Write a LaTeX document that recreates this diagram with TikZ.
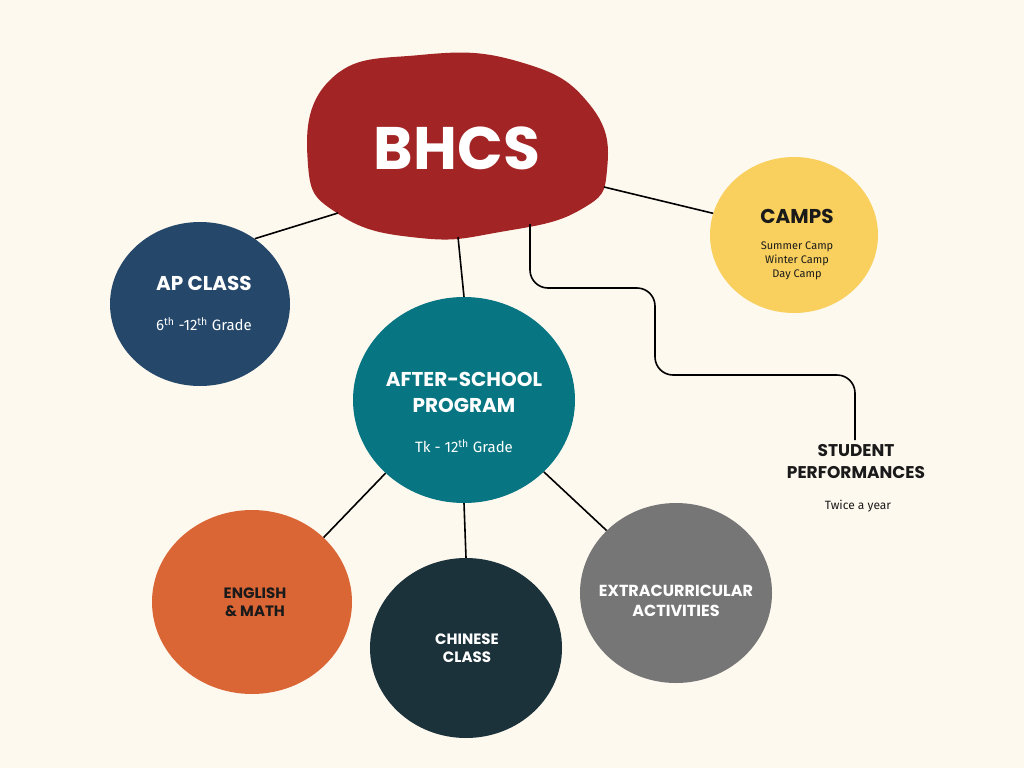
\documentclass[tikz,border=0pt]{standalone}
\usepackage{fontspec}
\setmainfont{Poppins}
\newfontfamily\smallfont{Fira Sans}
\usetikzlibrary{shapes.geometric}
\definecolor{bgcream}{HTML}{FEF9EF}
\definecolor{bhcsred}{HTML}{A32424}
\definecolor{apblue}{HTML}{24476A}
\definecolor{campyellow}{HTML}{F9D05E}
\definecolor{afterteal}{HTML}{087682}
\definecolor{engorange}{HTML}{DA6636}
\definecolor{chinadark}{HTML}{1B323B}
\definecolor{extragray}{HTML}{767676}
\definecolor{inkdark}{HTML}{1A1A1A}
\newcommand{\fsz}[1]{\fontsize{#1}{#1}\selectfont}
\tikzset{
  bubble/.style={ellipse, inner sep=0pt},
  link/.style={draw=black, line width=1.6pt},
  title/.style={font=\bfseries\fsz{20}, align=center},
  subtext/.style={font=\smallfont\fsz{15}}
}
\begin{document}
\begin{tikzpicture}[x=1pt,y=-1pt]

% Background
\useasboundingbox[fill=bgcream] (0,0) rectangle (1024,768);

% Main blob
\fill[bhcsred] plot[smooth cycle, tension=0.8] coordinates
  {(330,80) (420,55) (520,62) (590,105) (607,170) (580,210) (500,232) (420,238) (340,215) (308,165)};
\node[font=\bfseries\fsz{60}, text=white] (bhcs) at (457,148) {BHCS};
\coordinate (bhcsleft) at (338,213);
\coordinate (bhcsright) at (604,187);
\coordinate (bhcsbottom) at (458,237);
\coordinate (bhcselbow) at (530,224);

% Bubbles
\node[bubble, fill=apblue, minimum width=180pt, minimum height=164pt] (ap) at (200,304) {};
\node[bubble, fill=campyellow, minimum width=168pt, minimum height=156pt] (camps) at (794,235) {};
\node[bubble, fill=afterteal, minimum width=222pt, minimum height=206pt] (after) at (464,400) {};
\node[bubble, fill=engorange, minimum width=200pt, minimum height=184pt] (english) at (252,602) {};
\node[bubble, fill=chinadark, minimum width=192pt, minimum height=180pt] (chinese) at (466,648) {};
\node[bubble, fill=extragray, minimum width=192pt, minimum height=180pt] (extra) at (676,593) {};

% Texts
\node[title, text=white] at (204,283) {AP CLASS};
\node[subtext, text=white] at (204,324) {6\textsuperscript{th} -12\textsuperscript{th} Grade};
\node[title, text=inkdark] at (797,216) {CAMPS};
\node[font=\smallfont\fsz{11}, text=inkdark, align=center] at (797,261)
  {Summer Camp\\[3pt]Winter Camp\\[3pt]Day Camp};
\node[title, text=white] at (464,392) {AFTER-SCHOOL\\[6pt]PROGRAM};
\node[subtext, text=white] at (464,446) {Tk - 12\textsuperscript{th} Grade};
\node[font=\bfseries\fsz{15}, text=inkdark, align=center] at (255,602) {ENGLISH\\[3pt]\& MATH};
\node[font=\bfseries\fsz{15}, text=white, align=center] at (467,648) {CHINESE\\[3pt]CLASS};
\node[font=\bfseries\fsz{16}, text=white, align=center] at (676,601) {EXTRACURRICULAR\\[4pt]ACTIVITIES};
\node[font=\bfseries\fsz{17}, text=inkdark, align=center] (perf) at (856,462) {STUDENT\\[5pt]PERFORMANCES};
\node[font=\smallfont\fsz{12}, text=inkdark] at (858,506) {Twice a year};

% Connectors
\draw[link] (bhcsleft) -- (ap.50);
\draw[link] (bhcsright) -- (camps.165);
\draw[link] (bhcsbottom) -- (after.north);
\draw[link] (after.223) -- (english.42);
\draw[link] (after.south) -- (chinese.north);
\draw[link] (after.318) -- (extra.138);
\draw[link, rounded corners=18pt] (bhcselbow) -- (530,288) -- (655,288) -- (655,375) -- (855,375) -- (855,440);

\end{tikzpicture}
\end{document}
